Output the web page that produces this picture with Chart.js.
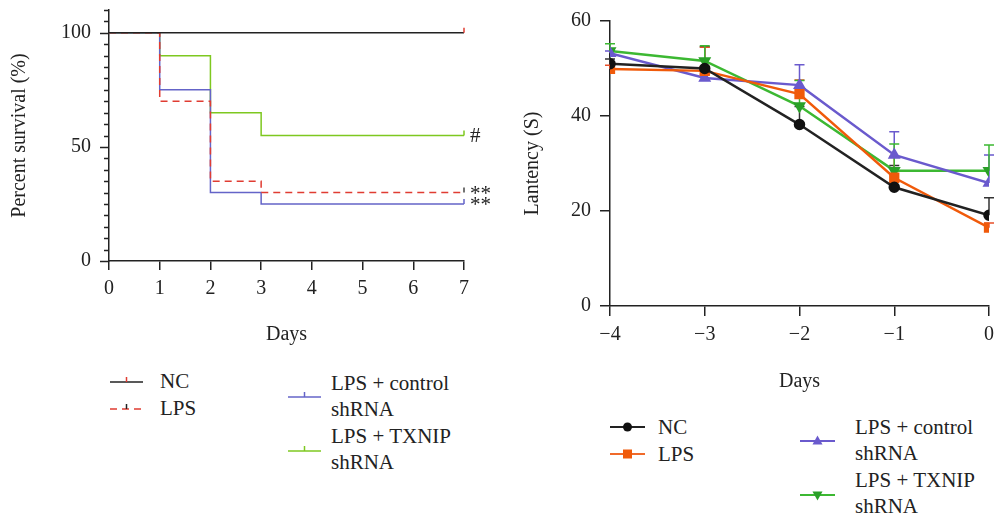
<!DOCTYPE html>
<html>
<head>
<meta charset="utf-8">
<script src="https://cdn.jsdelivr.net/npm/chart.js@4.4.1/dist/chart.umd.min.js"></script>
<style>
  html, body { margin:0; padding:0; background:#fff; }
  body { width:997px; height:519px; position:relative; overflow:hidden; font-family:"Liberation Serif","DejaVu Serif",serif; color:#222; }
  .cv { position:absolute; }
  .lg { position:absolute; font-size:21px; line-height:26px; color:#222; white-space:nowrap; }
  .sw { position:absolute; }
</style>
</head>
<body>
<div class="cv" style="left:0;top:0;width:500px;height:350px;"><canvas id="c1" width="500" height="350"></canvas></div>
<div class="cv" style="left:500px;top:0;width:497px;height:400px;"><canvas id="c2" width="497" height="400"></canvas></div>

<!-- left legend -->
<svg class="sw" style="left:108px;top:372px" width="38" height="16"><line x1="2" y1="10" x2="35" y2="10" stroke="#222" stroke-width="1.5"/><line x1="18.5" y1="10" x2="18.5" y2="5" stroke="#e03c32" stroke-width="1.5"/></svg>
<div class="lg" style="left:160px;top:368px">NC</div>
<svg class="sw" style="left:108px;top:399px" width="38" height="16"><line x1="2" y1="10" x2="35" y2="10" stroke="#e03c32" stroke-width="1.5" stroke-dasharray="7,5"/><line x1="18.5" y1="10" x2="18.5" y2="5" stroke="#222" stroke-width="1.5"/></svg>
<div class="lg" style="left:160px;top:395px">LPS</div>
<svg class="sw" style="left:286px;top:387px" width="38" height="16"><line x1="2" y1="10" x2="35" y2="10" stroke="#6464c8" stroke-width="1.5"/><line x1="18.5" y1="10" x2="18.5" y2="5" stroke="#6464c8" stroke-width="1.5"/></svg>
<div class="lg" style="left:331px;top:370px">LPS + control<br>shRNA</div>
<svg class="sw" style="left:286px;top:441px" width="38" height="16"><line x1="2" y1="10" x2="35" y2="10" stroke="#7ec820" stroke-width="1.5"/><line x1="18.5" y1="10" x2="18.5" y2="5" stroke="#7ec820" stroke-width="1.5"/></svg>
<div class="lg" style="left:331px;top:423px">LPS + TXNIP<br>shRNA</div>

<!-- right legend -->
<svg class="sw" style="left:608px;top:417px" width="40" height="20"><line x1="2" y1="10" x2="37" y2="10" stroke="#222" stroke-width="2"/><circle cx="19.5" cy="10" r="4.5" fill="#111"/></svg>
<div class="lg" style="left:658px;top:414px">NC</div>
<svg class="sw" style="left:608px;top:444px" width="40" height="20"><line x1="2" y1="10" x2="37" y2="10" stroke="#f06a2a" stroke-width="2"/><rect x="15" y="5.5" width="9" height="9" fill="#f05a0a"/></svg>
<div class="lg" style="left:658px;top:441px">LPS</div>
<svg class="sw" style="left:798px;top:431px" width="40" height="20"><line x1="2" y1="10" x2="37" y2="10" stroke="#6a5acd" stroke-width="2"/><polygon points="19.5,4.5 24.5,13.5 14.5,13.5" fill="#6a5acd"/></svg>
<div class="lg" style="left:855px;top:414px">LPS + control<br>shRNA</div>
<svg class="sw" style="left:798px;top:485px" width="40" height="20"><line x1="2" y1="10" x2="37" y2="10" stroke="#3cb832" stroke-width="2"/><polygon points="14.5,6.5 24.5,6.5 19.5,15.5" fill="#2aa028"/></svg>
<div class="lg" style="left:855px;top:467px">LPS + TXNIP<br>shRNA</div>

<script>
// ---------- Left chart: survival ----------
const survDays = [0, 1, 2, 3, 7];
const survNC      = [100, 100, 100, 100, 100];
const survLPS     = [100, 70, 35, 30, 30];
const survControl = [100, 75, 30, 25, 25];
const survTXNIP   = [100, 90, 65, 55, 55];
const survXTicks = [0, 1, 2, 3, 4, 5, 6, 7];
const survYTicks = [0, 5, 10, 15, 20, 25, 30, 35, 40, 45, 50, 55, 60, 65, 70, 75, 80, 85, 90, 95, 100, 105, 110];
const survYLabels = [0, 50, 100];
const survMarks = [
  {text: '#',  series: 'TXNIP'},
  {text: '**', series: 'LPS'},
  {text: '**', series: 'Control'}
];

// ---------- Right chart: latency ----------
const latDays = [-4, -3, -2, -1, 0];
const latNC      = [51.0, 50.0, 38.2, 25.0, 19.1];
const latNCErr   = [1.0, 4.6, 3.8, 4.6, 3.7];
const latLPS     = [49.9, 49.5, 44.6, 27.0, 16.5];
const latLPSErr  = [0.8, 5.0, 3.0, 4.5, 1.0];
const latCtrl    = [53.2, 48.0, 46.5, 31.8, 25.9];
const latCtrlErr = [0.5, 0.8, 4.3, 4.9, 5.9];
const latTX      = [53.7, 51.6, 42.1, 28.5, 28.5];
const latTXErr   = [1.5, 3.2, 5.4, 5.6, 5.4];

const FONT = "'Liberation Serif','DejaVu Serif',serif";
const INK = '#222';

function pts(xs, ys) { return xs.map((x, i) => ({x: x, y: ys[i]})); }

Chart.defaults.font.family = FONT;
Chart.defaults.color = INK;

// Left-chart y ticks (major / minor lengths) + censor ticks + significance marks
const survDecor = {
  id: 'survDecor',
  afterDraw(chart) {
    const ctx = chart.ctx, xs = chart.scales.x, ys = chart.scales.y;
    ctx.save();
    ctx.strokeStyle = INK; ctx.lineWidth = 1.5;
    survYTicks.forEach(v => {
      const y = Math.round(ys.getPixelForValue(v)) + 0.5;
      const len = survYLabels.includes(v) ? 9 : 5;
      ctx.beginPath(); ctx.moveTo(ys.right, y); ctx.lineTo(ys.right - len, y); ctx.stroke();
    });
    chart.data.datasets.forEach(ds => {
      const last = ds.data[ds.data.length - 1];
      const x = xs.getPixelForValue(last.x), y = ys.getPixelForValue(last.y);
      ctx.strokeStyle = ds.censorColor; ctx.lineWidth = 1.5;
      ctx.beginPath(); ctx.moveTo(x, y); ctx.lineTo(x, y - 5); ctx.stroke();
    });
    ctx.fillStyle = INK;
    ctx.font = "21px " + FONT;
    ctx.textBaseline = 'middle';
    survMarks.forEach(it => {
      const ds = chart.data.datasets.find(d => d.key === it.series);
      const last = ds.data[ds.data.length - 1];
      const dy = it.series === 'TXNIP' ? 1 : 2;
      ctx.fillText(it.text, xs.getPixelForValue(last.x) + 6, ys.getPixelForValue(last.y) + dy);
    });
    ctx.restore();
  }
};

const errBars = {
  id: 'errBars',
  beforeDatasetsDraw(chart) {
    const ctx = chart.ctx, xs = chart.scales.x, ys = chart.scales.y;
    ctx.save();
    chart.data.datasets.forEach(ds => {
      ctx.strokeStyle = ds.errColor || ds.borderColor;
      ctx.lineWidth = 1.5;
      ds.data.forEach((p, i) => {
        const x = xs.getPixelForValue(p.x);
        const y0 = ys.getPixelForValue(p.y);
        const y1 = ys.getPixelForValue(p.y + ds.err[i]);
        ctx.beginPath();
        ctx.moveTo(x, y0); ctx.lineTo(x, y1);
        ctx.moveTo(x - 5, y1); ctx.lineTo(x + 5, y1);
        ctx.stroke();
      });
    });
    ctx.restore();
  }
};

new Chart(document.getElementById('c1'), {
  type: 'line',
  plugins: [survDecor],
  data: {
    datasets: [
      {key: 'NC', data: pts(survDays, survNC), borderColor: INK, borderWidth: 1.5, stepped: 'before', fill: false, pointRadius: 0, censorColor: '#e03c32'},
      {key: 'LPS', data: pts(survDays, survLPS), borderColor: '#e03c32', borderWidth: 1.5, borderDash: [7, 5], stepped: 'before', fill: false, pointRadius: 0, censorColor: '#444'},
      {key: 'Control', data: pts(survDays, survControl), borderColor: '#6464c8', borderWidth: 1.5, stepped: 'before', fill: false, pointRadius: 0, censorColor: '#6464c8'},
      {key: 'TXNIP', data: pts(survDays, survTXNIP), borderColor: '#7ec820', borderWidth: 1.5, stepped: 'before', fill: false, pointRadius: 0, censorColor: '#7ec820'}
    ]
  },
  options: {
    responsive: false, animation: false, events: [],
    layout: { padding: { left: 0, top: 10, right: 36, bottom: 0 } },
    plugins: { legend: { display: false }, tooltip: { enabled: false } },
    scales: {
      x: {
        type: 'linear', min: 0, max: 7,
        afterBuildTicks: (s) => { s.ticks = survXTicks.map(v => ({value: v})); },
        afterFit: (s) => { s.height = 89; s.paddingLeft = 0; s.paddingRight = 0; },
        grid: { drawOnChartArea: false, drawTicks: true, tickLength: 9, color: INK, lineWidth: 1.5 },
        border: { display: true, color: INK, width: 1.5 },
        ticks: { font: { size: 20 }, padding: 7, color: INK, maxRotation: 0, autoSkip: false },
        title: { display: true, text: 'Days', font: { size: 20 }, padding: { top: 0, bottom: 3 }, color: INK }
      },
      y: {
        type: 'linear', min: 0, max: 110,
        afterBuildTicks: (s) => { s.ticks = survYLabels.map(v => ({value: v})); },
        ticks: { font: { size: 20 }, padding: 18, color: INK, autoSkip: false },
        afterFit: (s) => { s.width = 109; s.paddingTop = 0; s.paddingBottom = 0; },
        grid: { drawOnChartArea: false, drawTicks: false },
        border: { display: true, color: INK, width: 1.5 },
        title: { display: true, text: 'Percent survival (%)', font: { size: 20 }, padding: { top: 8, bottom: 0 }, color: INK }
      }
    }
  }
});

new Chart(document.getElementById('c2'), {
  type: 'line',
  plugins: [errBars],
  data: {
    datasets: [
      { key: 'NC', data: pts(latDays, latNC), err: latNCErr, borderColor: '#222', errColor: '#333', borderWidth: 2.5,
        pointStyle: 'circle', pointRadius: 4.5, pointBackgroundColor: '#111', pointBorderColor: '#111' },
      { key: 'LPS', data: pts(latDays, latLPS), err: latLPSErr, borderColor: '#f05a0a', errColor: '#e8502a', borderWidth: 2.5,
        pointStyle: 'rect', pointRadius: 5.5, pointBackgroundColor: '#f05a0a', pointBorderColor: '#f05a0a' },
      { key: 'Ctrl', data: pts(latDays, latCtrl), err: latCtrlErr, borderColor: '#6a5acd', borderWidth: 2.5,
        pointStyle: 'triangle', pointRadius: 5, pointBackgroundColor: '#6a5acd', pointBorderColor: '#6a5acd' },
      { key: 'TX', data: pts(latDays, latTX), err: latTXErr, borderColor: '#3cb832', borderWidth: 2.5,
        pointStyle: 'triangle', pointRotation: 180, pointRadius: 5, pointBackgroundColor: '#2aa028', pointBorderColor: '#2aa028' }
    ]
  },
  options: {
    responsive: false, animation: false, events: [],
    layout: { padding: { left: 0, top: 21, right: 8, bottom: 0 } },
    plugins: { legend: { display: false }, tooltip: { enabled: false } },
    scales: {
      x: {
        type: 'linear', min: -4, max: 0,
        afterBuildTicks: (s) => { s.ticks = latDays.map(v => ({value: v})); },
        afterFit: (s) => { s.height = 94; s.paddingLeft = 0; s.paddingRight = 0; },
        grid: { drawOnChartArea: false, drawTicks: true, tickLength: 10, color: INK, lineWidth: 1.5 },
        border: { display: true, color: INK, width: 1.5 },
        ticks: { font: { size: 20 }, padding: 7, color: INK, maxRotation: 0, autoSkip: false,
                 callback: (v) => (v < 0 ? '\u2212' + Math.abs(v) : String(v)) },
        title: { display: true, text: 'Days', font: { size: 20 }, padding: { top: 0, bottom: 6 }, color: INK }
      },
      y: {
        type: 'linear', min: 0, max: 60,
        ticks: { stepSize: 20, font: { size: 20 }, padding: 9, color: INK },
        afterFit: (s) => { s.width = 110; s.paddingTop = 0; s.paddingBottom = 0; },
        grid: { drawOnChartArea: false, drawTicks: true, tickLength: 10, color: INK, lineWidth: 1.5 },
        border: { display: true, color: INK, width: 1.5 },
        title: { display: true, text: 'Lantency (S)', font: { size: 20 }, padding: { top: 21, bottom: 0 }, color: INK }
      }
    }
  }
});
</script>
</body>
</html>
